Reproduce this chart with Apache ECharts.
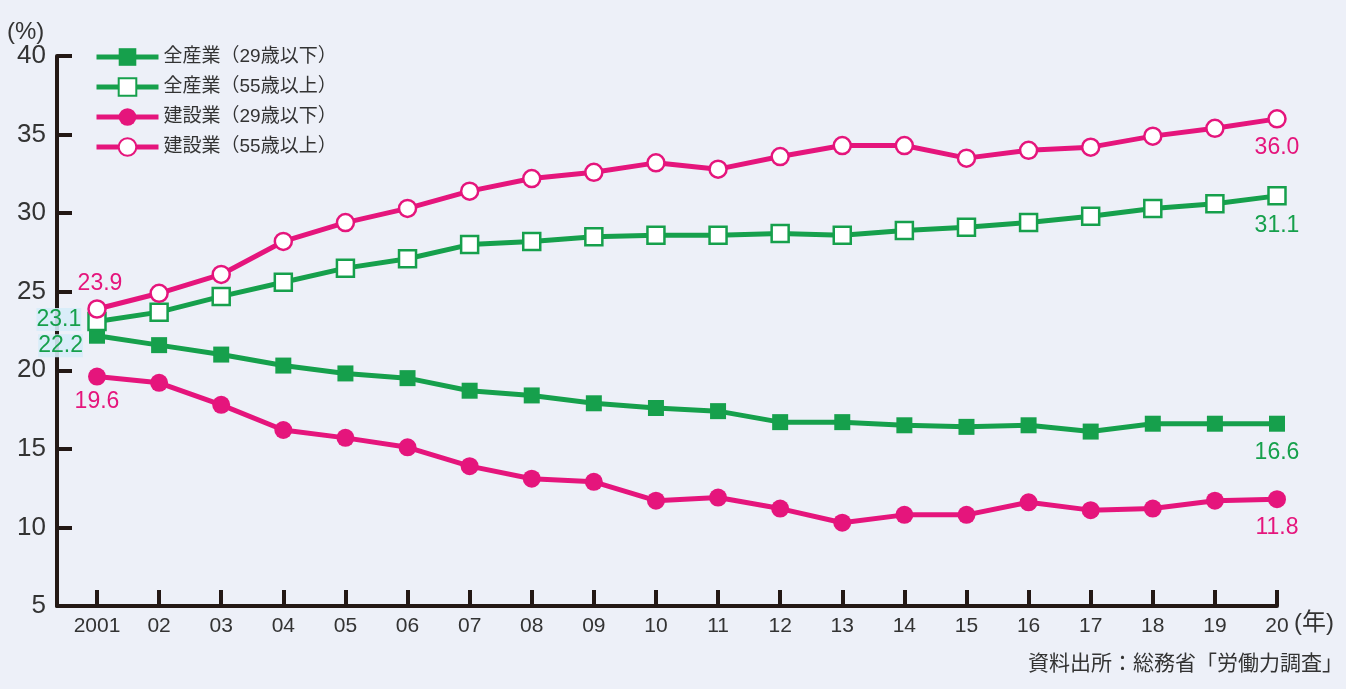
<!DOCTYPE html>
<html>
<head>
<meta charset="utf-8">
<script src="https://cdn.jsdelivr.net/npm/echarts@6/dist/echarts.min.js"></script>
<style>
  html, body { margin: 0; padding: 0; background: #edf0f8; }
  #chart { width: 1346px; height: 689px; }
</style>
</head>
<body>
<div id="chart"></div>
<script>
const years = [2001, 2002, 2003, 2004, 2005, 2006, 2007, 2008, 2009, 2010,
  2011, 2012, 2013, 2014, 2015, 2016, 2017, 2018, 2019, 2020]
const yearLabels = ['2001', '02', '03', '04', '05', '06', '07', '08', '09', '10',
  '11', '12', '13', '14', '15', '16', '17', '18', '19', '20']
const allUnder29 = [22.2, 21.6, 21.0, 20.3, 19.8, 19.5, 18.7, 18.4, 17.9, 17.6,
  17.4, 16.7, 16.7, 16.5, 16.4, 16.5, 16.1, 16.6, 16.6, 16.6]
const allOver55 = [23.1, 23.7, 24.7, 25.6, 26.5, 27.1, 28.0, 28.2, 28.5, 28.6,
  28.6, 28.7, 28.6, 28.9, 29.1, 29.4, 29.8, 30.3, 30.6, 31.1]
const conUnder29 = [19.6, 19.2, 17.8, 16.2, 15.7, 15.1, 13.9, 13.1, 12.9, 11.7,
  11.9, 11.2, 10.3, 10.8, 10.8, 11.6, 11.1, 11.2, 11.7, 11.8]
const conOver55 = [23.9, 24.9, 26.1, 28.2, 29.4, 30.3, 31.4, 32.2, 32.6, 33.2,
  32.8, 33.6, 34.3, 34.3, 33.5, 34.0, 34.2, 34.9, 35.4, 36.0]
const yTicks = [5, 10, 15, 20, 25, 30, 35, 40]

const GREEN = '#16a04c'
const PINK = '#e5157c'
const INK = '#231815'
const FONT = '"Liberation Sans", "Noto Sans CJK JP", sans-serif'

// labels only on first / last points, placed like the original
const withLabels = (vals, color, first, last) => vals.map((v, i) => {
  const item = { value: [years[i], v] }
  if (i === 0 && first) item.label = Object.assign({ show: true, color }, first)
  if (i === vals.length - 1 && last) item.label = Object.assign({ show: true, color }, last)
  return item
})

const labelBase = {
  fontSize: 23,
  fontFamily: FONT,
  formatter: p => p.value[1].toFixed(1)
}

const makeSeries = (name, vals, color, symbol, open, size, first, last) => ({
  name,
  type: 'line',
  data: withLabels(vals, color, first, last),
  symbol,
  symbolSize: size,
  showAllSymbol: true,
  lineStyle: { color, width: 5 },
  itemStyle: open
    ? { color: '#fff', borderColor: color, borderWidth: 2.5 }
    : { color, borderWidth: 0 },
  label: Object.assign({ show: false, color }, labelBase),
  emphasis: { disabled: true }
})

const chart = echarts.init(document.getElementById('chart'))

const option = {
  backgroundColor: '#edf0f8',
  animation: false,
  textStyle: { fontFamily: FONT },
  grid: { left: 57, right: 69, top: 56, bottom: 83, containLabel: false },
  legend: {
    orient: 'vertical',
    left: 89,
    top: 41,
    itemWidth: 62,
    itemHeight: 22,
    itemGap: 8,
    selectedMode: false,
    lineStyle: { width: 5 },
    textStyle: { fontSize: 19, color: '#333', lineHeight: 22, fontFamily: FONT }
  },
  xAxis: {
    type: 'value',
    min: 2001 - 40 / 62.1,
    max: 2020,
    splitLine: { show: false },
    axisLine: { show: true, lineStyle: { color: INK, width: 4 } },
    axisTick: { show: true, inside: true, length: 16, customValues: years, lineStyle: { color: INK, width: 4 } },
    axisLabel: {
      customValues: years,
      fontSize: 21,
      color: '#333',
      margin: 10,
      formatter: v => yearLabels[years.indexOf(Math.round(v))] || ''
    }
  },
  yAxis: {
    type: 'value',
    min: 5,
    max: 40,
    interval: 5,
    splitLine: { show: false },
    axisLine: { show: true, lineStyle: { color: INK, width: 4 } },
    axisTick: { show: true, inside: true, length: 15, lineStyle: { color: INK, width: 4 } },
    axisLabel: { fontSize: 26, color: '#333', margin: 11, customValues: yTicks }
  },
  series: [
    makeSeries('全産業（29歳以下）', allUnder29, GREEN, 'rect', false, 16,
      { position: 'left', distance: 6, offset: [0, 10], backgroundColor: 'rgba(214,236,248,0.9)', padding: [0, 0] },
      { position: 'bottom', distance: 9 }),
    makeSeries('全産業（55歳以上）', allOver55, GREEN, 'rect', true, 17,
      { position: 'left', distance: 6, offset: [0, -2], backgroundColor: 'rgba(214,236,248,0.9)', padding: [0, 0] },
      { position: 'bottom', distance: 9 }),
    makeSeries('建設業（29歳以下）', conUnder29, PINK, 'circle', false, 18,
      { position: 'bottom', distance: 5 },
      { position: 'bottom', distance: 8 }),
    makeSeries('建設業（55歳以上）', conOver55, PINK, 'circle', true, 17,
      { position: 'top', distance: 4, offset: [3, 0] },
      { position: 'bottom', distance: 8 })
  ],
  graphic: [
    { type: 'text', left: 7, top: 20, style: { text: '(%)', fontSize: 24, fill: '#333', fontFamily: FONT } },
    { type: 'text', left: 1294, top: 611, style: { text: '(年)', fontSize: 24, fill: '#333', fontFamily: FONT } },
    { type: 'text', right: 3, top: 654, style: { text: '資料出所：総務省「労働力調査」', fontSize: 21, fill: '#333', fontFamily: FONT } }
  ]
}

chart.setOption(option)
</script>
</body>
</html>
